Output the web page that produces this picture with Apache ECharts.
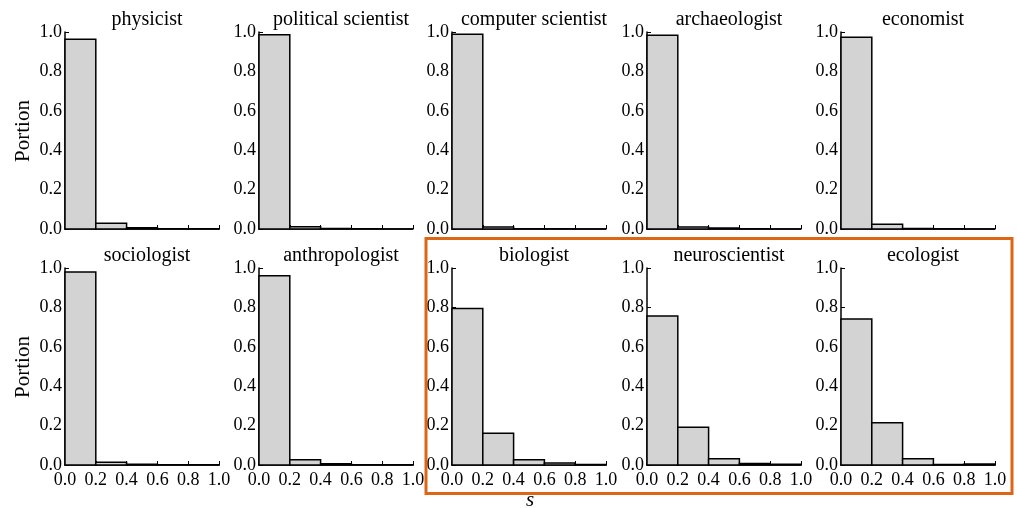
<!DOCTYPE html>
<html>
<head>
<meta charset="utf-8">
<script src="https://cdn.jsdelivr.net/npm/echarts@6/dist/echarts.min.js"></script>
<style>html,body{margin:0;padding:0;background:#fff}#c{width:1017px;height:508px}</style>
</head>
<body>
<div id="c"></div>
<script>
// bin edges of s
const binEdges = [0.0, 0.2, 0.4, 0.6, 0.8, 1.0];
const tickLabels = ['0.0', '0.2', '0.4', '0.6', '0.8', '1.0'];
const professions = ['physicist', 'political scientist', 'computer scientist', 'archaeologist', 'economist',
                     'sociologist', 'anthropologist', 'biologist', 'neuroscientist', 'ecologist'];
// portion in each bin
const physicist          = [0.963, 0.029, 0.006, 0.001, 0.001];
const politicalScientist = [0.986, 0.011, 0.002, 0.001, 0.000];
const computerScientist  = [0.988, 0.010, 0.001, 0.001, 0.000];
const archaeologist      = [0.984, 0.010, 0.005, 0.001, 0.000];
const economist          = [0.973, 0.024, 0.002, 0.001, 0.000];
const sociologist        = [0.980, 0.014, 0.004, 0.001, 0.001];
const anthropologist     = [0.961, 0.027, 0.006, 0.001, 0.001];
const biologist          = [0.795, 0.161, 0.027, 0.010, 0.002];
const neuroscientist     = [0.756, 0.191, 0.032, 0.008, 0.004];
const ecologist          = [0.741, 0.215, 0.032, 0.002, 0.005];
const seriesValues = [physicist, politicalScientist, computerScientist, archaeologist, economist,
                      sociologist, anthropologist, biologist, neuroscientist, ecologist];

const FONT = '"Liberation Serif", "DejaVu Serif", serif';
const lefts = [65, 259, 452, 647, 841];
const tops = [32, 268];
const W = 154, H = 197;

const grids = [], xAxes = [], yAxes = [], series = [], titles = [];
professions.forEach((name, i) => {
  const row = Math.floor(i / 5), col = i % 5;
  grids.push({left: lefts[col], top: tops[row], width: W, height: H, containLabel: false});
  xAxes.push({
    type: 'value', gridIndex: i, min: 0, max: 1, interval: 0.2,
    axisLine: {show: true, onZero: false, lineStyle: {color: '#000', width: 1.5}},
    axisTick: {show: true, inside: true, length: 4, lineStyle: {color: '#000', width: 1}},
    axisLabel: {show: row === 1, margin: 6, color: '#000', fontFamily: FONT, fontSize: 18,
                formatter: v => tickLabels[Math.round(v * 5)]},
    splitLine: {show: false}
  });
  yAxes.push({
    type: 'value', gridIndex: i, min: 0, max: 1, interval: 0.2,
    axisLine: {show: true, lineStyle: {color: '#000', width: 1.5}},
    axisTick: {show: true, inside: true, length: 4, lineStyle: {color: '#000', width: 1}},
    axisLabel: {show: true, margin: 3, color: '#000', fontFamily: FONT, fontSize: 18,
                formatter: v => tickLabels[Math.round(v * 5)]},
    splitLine: {show: false}
  });
  const data = seriesValues[i].map((v, k) => [binEdges[k], binEdges[k + 1], v]);
  series.push({
    type: 'custom', xAxisIndex: i, yAxisIndex: i, data: data,
    encode: {x: [0, 1], y: 2},
    renderItem: (params, api) => {
      const p0 = api.coord([api.value(0), api.value(2)]);
      const p1 = api.coord([api.value(1), 0]);
      return {
        type: 'rect',
        shape: {x: p0[0], y: p0[1], width: p1[0] - p0[0], height: p1[1] - p0[1]},
        style: {fill: '#d3d3d3', stroke: '#000', lineWidth: 1.5}
      };
    }
  });
  titles.push({
    text: name, left: lefts[col] + W / 2, top: tops[row] - 27, textAlign: 'center',
    textStyle: {fontFamily: FONT, fontSize: 20, fontWeight: 'normal', color: '#000'}
  });
});

const chart = echarts.init(document.getElementById('c'), null, {renderer: 'canvas'});
chart.setOption({
  animation: false,
  backgroundColor: '#fff',
  title: titles,
  grid: grids, xAxis: xAxes, yAxis: yAxes, series: series,
  graphic: [
    {type: 'rect', shape: {x: 426, y: 238.5, width: 586, height: 255}, z: 100,
     style: {fill: null, stroke: '#df6516', lineWidth: 3}},
    {type: 'text', x: 23, y: 131, rotation: Math.PI / 2,
     style: {text: 'Portion', font: '21px ' + FONT, fill: '#000', textAlign: 'center', textVerticalAlign: 'middle'}},
    {type: 'text', x: 23, y: 367, rotation: Math.PI / 2,
     style: {text: 'Portion', font: '21px ' + FONT, fill: '#000', textAlign: 'center', textVerticalAlign: 'middle'}},
    {type: 'text', x: 530, y: 500,
     style: {text: 's', font: 'italic 21px ' + FONT, fill: '#000', textAlign: 'center', textVerticalAlign: 'middle'}}
  ]
});
</script>
</body>
</html>
